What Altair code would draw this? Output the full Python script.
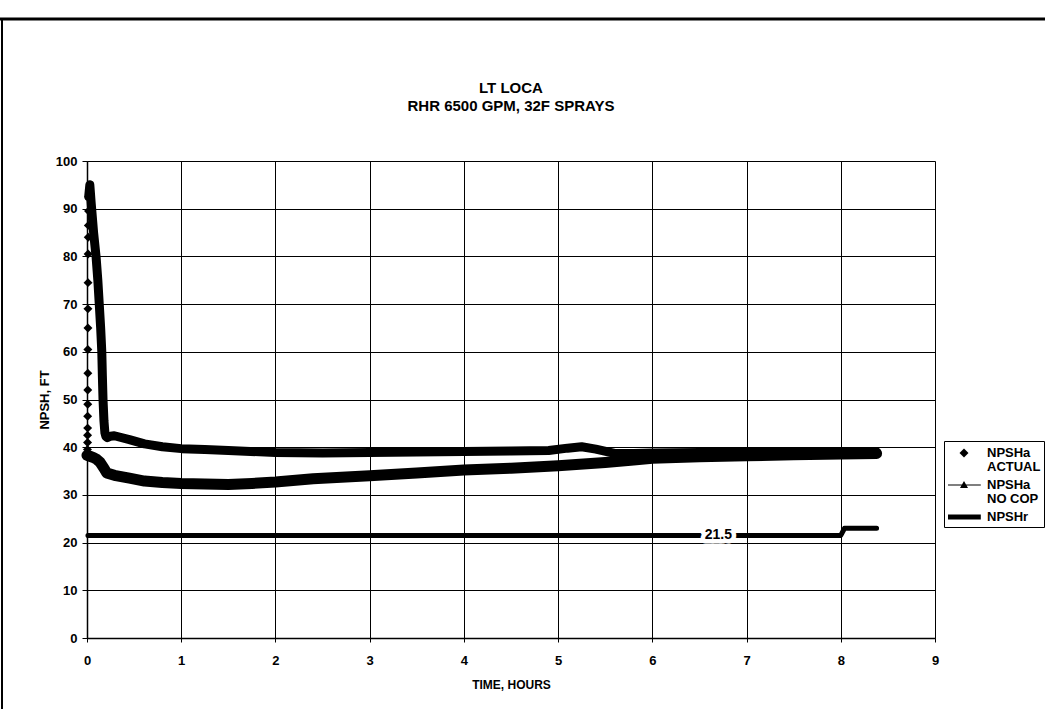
import altair as alt
import pandas as pd

FONT = "Liberation Sans"

series_names = ["NPSHa|ACTUAL", "NPSHa|NO COP", "NPSHr"]
x_ticks = [0, 1, 2, 3, 4, 5, 6, 7, 8, 9]
y_ticks = [0, 10, 20, 30, 40, 50, 60, 70, 80, 90, 100]

# NPSHa ACTUAL - initial rise (individual diamond markers)
rise_t = [0.005, 0.005, 0.006, 0.006, 0.007, 0.007, 0.008, 0.008, 0.009,
          0.009, 0.010, 0.010, 0.011, 0.012, 0.013, 0.014, 0.016, 0.018]
rise_v = [38.0, 39.5, 41.0, 42.5, 44.0, 46.5, 49.0, 52.0, 55.5,
          60.5, 65.0, 69.0, 74.5, 80.5, 84.0, 86.5, 89.5, 92.5]

# NPSHa ACTUAL - dense part (drawn as thick band)
actual_t = [0.018, 0.030, 0.045, 0.070, 0.096, 0.115, 0.130, 0.145, 0.157, 0.163,
            0.170, 0.180, 0.190, 0.200, 0.215, 0.25, 0.29, 0.45, 0.61, 0.80,
            1.00, 1.25, 1.50, 2.00, 2.50, 3.00, 3.50, 4.00, 4.50, 4.90,
            5.10, 5.25, 5.40, 5.60, 5.80, 6.00, 6.50, 7.00, 7.50, 8.00, 8.38]
actual_v = [92.5, 95.0, 91.0, 85.0, 80.0, 75.0, 70.0, 65.0, 60.0, 55.0,
            50.0, 45.5, 43.0, 42.3, 42.0, 42.3, 42.4, 41.6, 40.7, 40.1,
            39.7, 39.5, 39.3, 38.9, 38.8, 38.9, 39.0, 39.1, 39.2, 39.3,
            39.8, 40.1, 39.6, 38.7, 38.7, 38.8, 38.9, 38.9, 39.0, 39.0, 39.0]

# NPSHa NO COP
nocop_t = [0.0, 0.03, 0.07, 0.10, 0.14, 0.18, 0.21, 0.29, 0.45, 0.61,
           0.80, 1.00, 1.25, 1.50, 1.75, 2.00, 2.40, 3.00, 3.50, 4.00,
           4.50, 5.00, 5.50, 5.80, 6.00, 6.50, 7.00, 7.50, 8.00, 8.38]
nocop_v = [38.3, 38.1, 37.8, 37.5, 36.8, 35.6, 34.6, 34.1, 33.5, 32.9,
           32.6, 32.4, 32.3, 32.2, 32.4, 32.7, 33.4, 34.0, 34.6, 35.2,
           35.6, 36.1, 36.8, 37.3, 37.7, 38.0, 38.2, 38.4, 38.6, 38.7]

# NPSHr
npshr_t = [0.01, 8.00, 8.04, 8.38]
npshr_v = [21.5, 21.5, 23.0, 23.0]

# data label on NPSHr
label_t = [6.7]
label_v = [21.5]
label_text = ["21.5"]

df_rise = pd.DataFrame({"t": rise_t, "v": rise_v, "series": series_names[0]})
df_act = pd.DataFrame({"t": actual_t, "v": actual_v, "series": series_names[0]})
df_nocop = pd.DataFrame({"t": nocop_t, "v": nocop_v, "series": series_names[1]})
df_r = pd.DataFrame({"t": npshr_t, "v": npshr_v, "series": series_names[2]})
df_lbl = pd.DataFrame({"t": label_t, "v": label_v, "text": label_text})

xscale = alt.Scale(domain=[0, 9], nice=False, zero=False)
yscale = alt.Scale(domain=[0, 100], nice=False)

xaxis = alt.Axis(values=x_ticks, title="TIME, HOURS", grid=True, gridColor="black",
                 gridWidth=1, gridOpacity=1, domainColor="black", domainWidth=1.5,
                 tickColor="black", tickSize=4, labelFont=FONT, labelFontSize=13,
                 labelFontWeight="bold", labelColor="black", labelPadding=12,
                 titleFont=FONT, titleFontSize=12, titleFontWeight="bold",
                 titleColor="black", titlePadding=12, format="d", labelFlush=False)
yaxis = alt.Axis(values=y_ticks, title="NPSH, FT", grid=True, gridColor="black",
                 gridWidth=1, gridOpacity=1, domainColor="black", domainWidth=1.5,
                 tickColor="black", tickSize=5, labelFont=FONT, labelFontSize=13,
                 labelFontWeight="bold", labelColor="black", labelPadding=5,
                 titleFont=FONT, titleFontSize=13, titleFontWeight="bold",
                 titleColor="black", titlePadding=4, format="d", labelFlush=False)

X = alt.X("t:Q", scale=xscale, axis=xaxis)
Y = alt.Y("v:Q", scale=yscale, axis=yaxis)
Xn = alt.X("t:Q", scale=xscale)
Yn = alt.Y("v:Q", scale=yscale)

# marker symbol for the plotted diamonds (unit coordinates)
plot_diamond = "M0,-1L1,0L0,1L-1,0Z"
# legend symbols (unit coordinates, drawn wider than the nominal symbol box)
leg_diamond = "M1,-0.56L1.56,0L1,0.56L0.44,0Z"
leg_tri = "M-1,-0.07H3.1V0.07H-1ZM0.5,0.36L1,-0.5L1.5,0.36Z"
leg_bar = "M-1,-0.31H3.1V0.31H-1Z"

legend = alt.Legend(title=None, orient="none", legendX=857, legendY=280,
                    labelExpr="split(datum.label, '|')", labelFont=FONT,
                    labelFontSize=13, labelFontWeight="bold", labelColor="black",
                    strokeColor="black", fillColor="white", padding=3,
                    symbolSize=256, symbolFillColor="black",
                    rowPadding=2, labelOffset=22, labelLimit=200)

base_grid = alt.Chart(df_r).mark_line(opacity=0).encode(x=X, y=Y)

nocop_line = alt.Chart(df_nocop).mark_line(color="black", strokeWidth=11,
                                           strokeCap="round", strokeJoin="round").encode(x=Xn, y=Yn)
act_line = alt.Chart(df_act).mark_line(color="black", strokeWidth=9,
                                       strokeCap="round", strokeJoin="round").encode(x=Xn, y=Yn)
rise_pts = alt.Chart(df_rise).mark_point(filled=True, color="black", size=80,
                                         opacity=1, shape=plot_diamond).encode(x=Xn, y=Yn)
legend_layer = alt.Chart(df_rise).transform_filter("datum.v < -1000").mark_point(
    filled=True, color="black", opacity=1, size=256).encode(
    x=Xn, y=Yn,
    shape=alt.Shape("series:N", scale=alt.Scale(domain=series_names,
                                                range=[leg_diamond, leg_tri, leg_bar]),
                    legend=legend),
)
r_line = alt.Chart(df_r).mark_line(color="black", strokeWidth=5,
                                   strokeCap="round", strokeJoin="round").encode(x=Xn, y=Yn)
lbl_halo = alt.Chart(df_lbl).mark_text(font=FONT, fontSize=14, fontWeight="bold",
                                       color="white", stroke="white", strokeWidth=9,
                                       strokeJoin="round").encode(x=Xn, y=Yn, text="text:N")
lbl = alt.Chart(df_lbl).mark_text(font=FONT, fontSize=14, fontWeight="bold",
                                  color="black").encode(x=Xn, y=Yn, text="text:N")

frame_df = pd.DataFrame({"k": [0]})
left_border = alt.Chart(frame_df).mark_rule(color="black", strokeWidth=2).encode(
    x=alt.value(-85), y=alt.value(-142), y2=alt.value(548))
top_border = alt.Chart(frame_df).mark_rule(color="black", strokeWidth=3).encode(
    x=alt.value(-87), x2=alt.value(958), y=alt.value(-142))

chart = alt.layer(
    base_grid, r_line, lbl_halo, lbl, nocop_line, act_line, rise_pts, legend_layer,
    left_border, top_border
).properties(
    width=848, height=477,
    autosize=alt.AutoSizeParams(type="none"),
    padding={"left": 87, "top": 161, "right": 110, "bottom": 71},
    title=alt.TitleParams(["LT LOCA", "RHR 6500 GPM, 32F SPRAYS"], anchor="middle",
                          font=FONT, fontSize=15, fontWeight="bold", lineHeight=18,
                          offset=0, dy=96, color="black"),
    background="white",
).configure_view(stroke="black", strokeWidth=1.5).configure(
    style={"guide-label": {"lineHeight": 14}}
)

chart.save("out.html", embed_options={"renderer": "svg", "actions": False})
